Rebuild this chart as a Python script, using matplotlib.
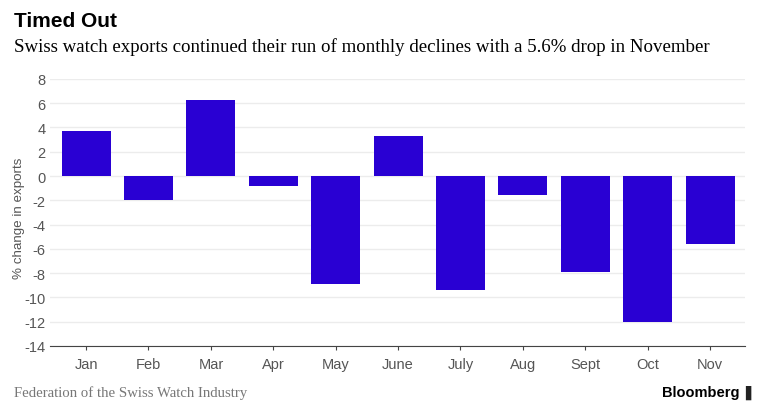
import matplotlib
matplotlib.use("Agg")
import matplotlib.pyplot as plt

months = ["Jan", "Feb", "Mar", "Apr", "May", "June", "July", "Aug", "Sept", "Oct", "Nov"]
change = [3.7, -2.0, 6.3, -0.8, -8.9, 3.3, -9.4, -1.6, -7.9, -12.0, -5.6]
yticks = list(range(-14, 9, 2))

fig = plt.figure(figsize=(7.68, 4.14), dpi=100)
ax = fig.add_axes([0.065, 0.162, 0.905, 0.645])

ax.bar(range(len(months)), change, width=0.785, color="#2900d3", zorder=3)
ax.set_xlim(-0.58, len(months) - 0.44)
ax.set_ylim(-14, 8)
ax.set_yticks(yticks)
ax.set_yticklabels([str(t) for t in yticks])
ax.set_xticks(range(len(months)))
ax.set_xticklabels(months)
ax.grid(axis="y", color="#ececec", linewidth=1, zorder=0)
for s in ["top", "right", "left"]:
    ax.spines[s].set_visible(False)
ax.spines["bottom"].set_color("#444444")
ax.tick_params(axis="y", length=0, labelsize=10.5, labelcolor="#555555", pad=3)
ax.tick_params(axis="x", length=3, color="#444444", labelsize=10.5, labelcolor="#555555", pad=5)
for lbl in ax.get_xticklabels() + ax.get_yticklabels():
    lbl.set_family("Liberation Sans")
ax.set_ylabel("% change in exports", fontsize=9.6, color="#555555", family="Liberation Sans")
ax.yaxis.set_label_coords(-0.036, 0.48)

fig.text(0.018, 0.948, "Timed Out", fontsize=15, fontweight="bold", family="Liberation Sans", va="center")
fig.text(0.018, 0.887, "Swiss watch exports continued their run of monthly declines with a 5.6% drop in November",
         fontsize=13.6, family="Liberation Serif", va="center")
fig.text(0.018, 0.05, "Federation of the Swiss Watch Industry", fontsize=10.6, family="Liberation Serif",
         color="#777777", va="center")
fig.text(0.963, 0.05, "Bloomberg", fontsize=10.5, fontweight="bold", family="Liberation Sans",
         ha="right", va="center")
fig.text(0.977, 0.05, "\u258c", fontsize=10, color="#222222", ha="center", va="center")

fig.savefig("out.png", dpi=100)
